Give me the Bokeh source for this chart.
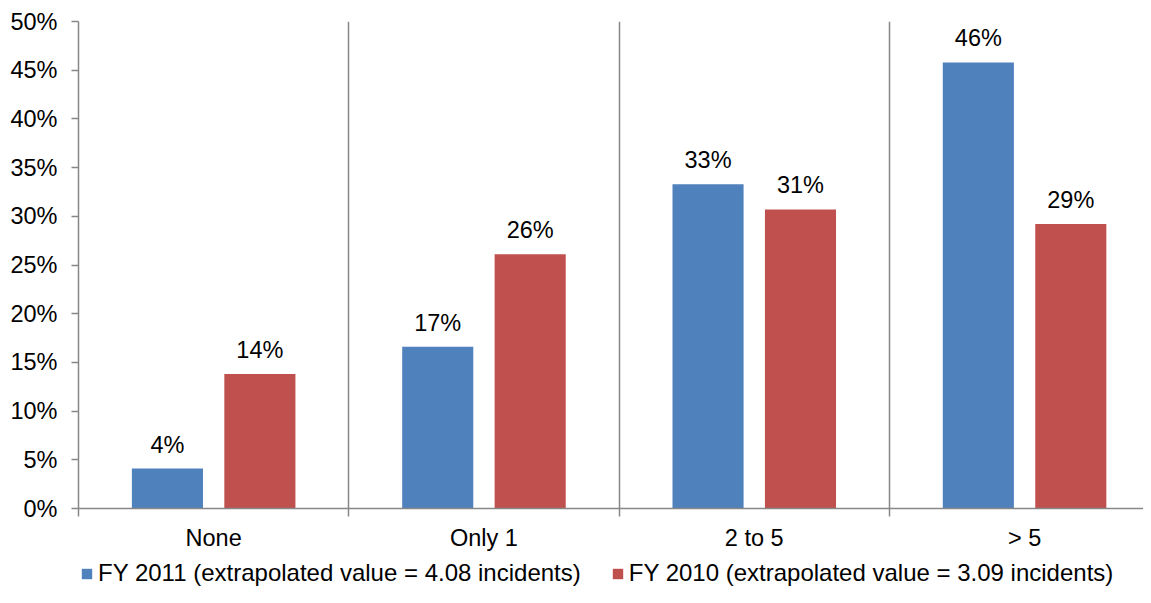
from bokeh.plotting import figure
from bokeh.layouts import column
from bokeh.models import (ColumnDataSource, FixedTicker, PrintfTickFormatter,
                          Legend, LegendItem, Range1d)
from bokeh.transform import dodge
from bokeh.core.properties import value
from bokeh.embed import file_html
from bokeh.resources import INLINE

# ---- data ----
categories = ["None", "Only 1", "2 to 5", "> 5"]
fy2011 = [4.1, 16.6, 33.3, 45.8]
fy2010 = [13.8, 26.1, 30.7, 29.2]
series_names = ["FY 2011 (extrapolated value = 4.08 incidents)",
                "FY 2010 (extrapolated value = 3.09 incidents)"]
y_ticks = [0, 5, 10, 15, 20, 25, 30, 35, 40, 45, 50]

FONT = "Liberation Sans"
GRAY = "#878787"
BLUE = "#4F81BD"
RED = "#C0504D"
W = 1143

pos = [i + 0.5 for i in range(len(categories))]
src = ColumnDataSource(dict(
    x=pos,
    fy2011=fy2011,
    fy2010=fy2010,
    l11=[f"{round(v)}%" for v in fy2011],
    l10=[f"{round(v)}%" for v in fy2010],
))

p = figure(width=W, height=560,
           x_range=Range1d(0, 3.94), y_range=Range1d(0, 50),
           output_backend="svg", toolbar_location=None,
           min_border_left=78, min_border_right=0,
           min_border_top=21, min_border_bottom=52)
p.outline_line_color = None
p.background_fill_color = "white"
p.border_fill_color = "white"

off = 0.171
bw = 0.263
r1 = p.vbar(x=dodge("x", -off, range=p.x_range), top="fy2011", width=bw,
            source=src, fill_color=BLUE, line_color=None)
r2 = p.vbar(x=dodge("x", off, range=p.x_range), top="fy2010", width=bw,
            source=src, fill_color=RED, line_color=None)

for col, lab, d in (("fy2011", "l11", -off), ("fy2010", "l10", off)):
    p.text(x=dodge("x", d, range=p.x_range), y=col, text=lab, source=src,
           text_align="center", text_baseline="alphabetic", y_offset=-24,
           text_font=value(FONT), text_font_size="23.5px", text_color="black")

# x axis
xa = p.xaxis[0]
xa.ticker = FixedTicker(ticks=pos, minor_ticks=[0, 1, 2, 3, 4])
xa.major_label_overrides = {v: c for v, c in zip(pos, categories)}
xa.major_tick_out = 0
xa.major_tick_in = 0
xa.minor_tick_out = 8
xa.minor_tick_in = 0
xa.minor_tick_line_color = GRAY
xa.minor_tick_line_width = 1.5
xa.axis_line_color = GRAY
xa.axis_line_width = 1.5
xa.major_label_standoff = 8
xa.major_label_text_font = FONT
xa.major_label_text_font_size = "23.5px"
xa.major_label_text_color = "black"

# y axis
ya = p.yaxis[0]
ya.ticker = FixedTicker(ticks=y_ticks)
ya.formatter = PrintfTickFormatter(format="%d%%")
ya.major_tick_out = 7
ya.major_tick_in = 0
ya.minor_tick_out = 0
ya.minor_tick_in = 0
ya.major_tick_line_color = GRAY
ya.major_tick_line_width = 1.5
ya.axis_line_color = GRAY
ya.axis_line_width = 1.5
ya.major_label_standoff = 14
ya.major_label_text_font = FONT
ya.major_label_text_font_size = "23.5px"
ya.major_label_text_color = "black"

# grids
p.ygrid.grid_line_color = None
p.xgrid.ticker = FixedTicker(ticks=[1, 2, 3])
p.xgrid.grid_line_color = GRAY
p.xgrid.grid_line_width = 1.5

# ---- legend strip (separate small figure, frame aligned with main plot) ----
lg = figure(width=W, height=27, x_range=Range1d(0, 1), y_range=Range1d(0, 1),
            output_backend="svg", toolbar_location=None,
            x_axis_type=None, y_axis_type=None,
            min_border_left=0, min_border_right=0,
            min_border_top=0, min_border_bottom=0)
lg.outline_line_color = None
lg.xgrid.visible = False
lg.ygrid.visible = False
# one point outside the visible range, only so the legend swatches render
hidden = ColumnDataSource(dict(x=[5], top=[1]))
g1 = lg.vbar(x="x", top="top", width=0.1, source=hidden,
             fill_color=BLUE, line_color=None)
g2 = lg.vbar(x="x", top="top", width=0.1, source=hidden,
             fill_color=RED, line_color=None)

legend = Legend(items=[LegendItem(label=series_names[0], renderers=[g1]),
                       LegendItem(label=series_names[1], renderers=[g2])],
                orientation="horizontal", location=(2, 0),
                label_text_font=FONT, label_text_font_size="24px",
                label_text_color="black",
                glyph_width=13, glyph_height=13, label_standoff=5,
                spacing=30, padding=0, margin=0,
                border_line_color=None, background_fill_alpha=0)
lg.add_layout(legend, "center")

layout = column(p, lg, spacing=0)
open("out.html", "w").write(file_html(layout, INLINE))
